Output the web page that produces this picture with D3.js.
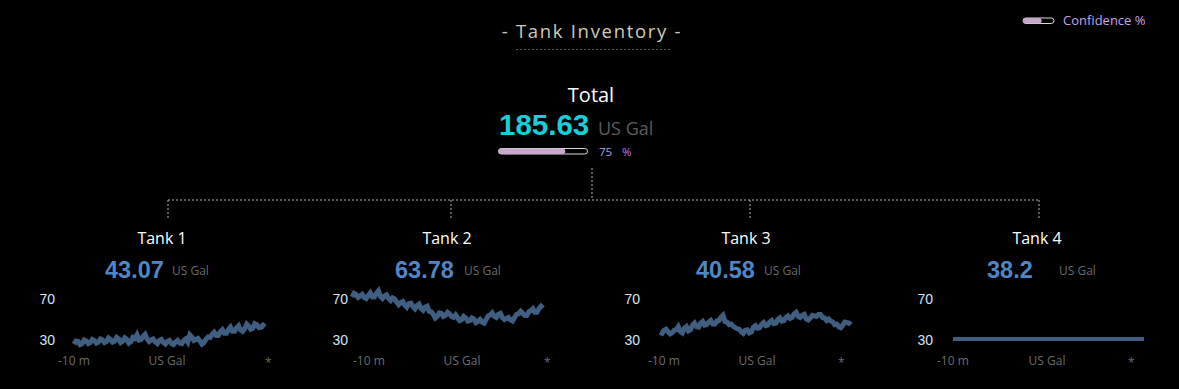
<!DOCTYPE html>
<html>
<head>
<meta charset="utf-8">
<script src="https://cdn.jsdelivr.net/npm/d3@7/dist/d3.min.js"></script>
<style>
  html, body { margin:0; padding:0; background:#000; }
  svg { display:block; }
</style>
</head>
<body>
<svg id="chart" width="1179" height="389"></svg>
<script>
// ---------- DATA ----------
const chartTitle = "- Tank Inventory -";
const legendLabel = "Confidence %";
const totalLabel = "Total";
const totalValue = "185.63";
const unitLabel = "US Gal";
const totalConfidence = 75;
const legendConfidence = 60;

const tankNames = ["Tank 1", "Tank 2", "Tank 3", "Tank 4"];
const tankValues = ["43.07", "63.78", "40.58", "38.2"];
const yTicks = [30, 70];
const xTickLabels = ["-10 m", "US Gal", "*"];

const tank1 = [26, 29, 28.5, 25.5, 26.5, 30, 29, 26.5, 27.5, 30.5, 29.5, 27, 28, 31, 30, 27.5,
  28.5, 32, 30.5, 28, 29, 32.5, 31, 27.5, 29, 32, 30.5, 27, 28.5, 32.5, 31.5, 35,
  30, 30.5, 33.5, 35.5, 31, 28.5, 30, 31, 28, 26.5, 29.5, 30.5, 27.5, 26, 28.5, 29.5,
  26.5, 25.5, 28, 29.5, 27, 26.5, 29.5, 31, 28, 35, 33, 29.5, 30.5, 31.5, 29, 26,
  27.5, 31, 33, 32.5, 35.5, 37.5, 34.5, 34.5, 38, 40, 36.5, 36.5, 40, 42.5, 38.5, 38.5,
  42, 44, 40, 38.5, 41, 45.5, 43.5, 40.5, 41.5, 46, 45, 42, 42.5, 44.5, 43];
const tank2 = [72, 75.5, 74.5, 71.5, 73, 74.5, 71.5, 70.5, 73.5, 76, 72, 72, 75.5, 78, 72.5, 70.5,
  73, 74, 70.5, 68.5, 71, 70, 67, 64.5, 66.5, 67.5, 64, 62, 65.5, 66, 62.5, 60.5,
  63.5, 65, 60.5, 59, 62, 63, 58, 57.5, 55, 51.5, 53, 56.5, 56, 53, 54, 57,
  55.5, 53, 52, 54.5, 51.5, 49, 50, 53, 51.5, 48.5, 49, 51.5, 50.5, 47, 48, 50,
  47.5, 46.5, 50, 53.5, 54.5, 56.5, 53, 52, 55, 56, 52, 50, 51, 52, 49.5, 48.5,
  52, 55, 55.5, 58, 56, 54, 54, 57.5, 58.5, 60.5, 57, 57, 60.5, 63, 61];
const tank3 = [37.5, 36.5, 39.5, 40.5, 38, 36, 37, 39.5, 40, 43, 38.5, 37, 41.5, 43, 39, 40,
  44.5, 46.5, 43, 42.5, 46.5, 48, 44.5, 45, 47.5, 49, 45.5, 45.5, 48.5, 49, 52, 54,
  48, 47.5, 45, 45.5, 43.5, 42, 41, 40.5, 38, 36.5, 39.5, 40, 37, 38, 42.5, 44,
  41.5, 42, 45, 47, 44, 44.5, 47.5, 49, 46, 46.5, 50, 51.5, 48.5, 49, 52, 53.5,
  51, 52, 55.5, 57, 53, 52, 54, 55, 50.5, 49.5, 51.5, 54, 53.5, 53, 55, 55,
  52, 51.5, 49, 50.5, 48.5, 47.5, 45, 45.5, 43, 42, 44.5, 47.5, 47, 46.5, 45];
const tank4 = [31, 31, 31, 31, 31, 31, 31, 31, 31, 31, 31, 31];
const tankSeries = [tank1, tank2, tank3, tank4];

// ---------- LAYOUT ----------
const W = 1179, H = 389;
const panels = [
  {cx:162, link:168, valueX:105, unitX:172, labelRight:55, chartX:74, minX:58, unitAxisX:167, starX:265},
  {cx:447, link:451, valueX:395, unitX:464, labelRight:348, chartX:352, minX:353, unitAxisX:462, starX:544},
  {cx:746, link:750, valueX:696, unitX:764, labelRight:640, chartX:660, minX:648, unitAxisX:757, starX:838},
  {cx:1037, link:1039, valueX:987, unitX:1059, labelRight:933, chartX:953, minX:937, unitAxisX:1047, starX:1128}
];
const chartW = 191;

const svg = d3.select("#chart");
svg.append("rect").attr("width", W).attr("height", H).attr("fill", "#000");

const sansUI = "'Open Sans', 'Noto Sans', sans-serif";
const sansNum = "'Liberation Sans', Arial, sans-serif";

// Title
svg.append("text").attr("x", 592).attr("y", 38).attr("text-anchor", "middle")
  .attr("font-family", sansUI).attr("font-size", 18.5).attr("letter-spacing", 1.7)
  .attr("fill", "#cfcbb8").text(chartTitle);
svg.append("line").attr("x1", 516).attr("x2", 671).attr("y1", 49.5).attr("y2", 49.5)
  .attr("stroke", "#555").attr("stroke-width", 1).attr("stroke-dasharray", "2,2");

// Legend
const lg = svg.append("g");
lg.append("rect").attr("x", 1023).attr("y", 18).attr("width", 31).attr("height", 5.5).attr("rx", 2.75)
  .attr("fill", "none").attr("stroke", "#d8d8d8").attr("stroke-width", 1);
lg.append("rect").attr("x", 1023).attr("y", 18).attr("width", 31 * legendConfidence / 100).attr("height", 5.5).attr("rx", 2.75)
  .attr("fill", "#c8a6cc");
lg.append("text").attr("x", 1063).attr("y", 24.5).attr("font-family", sansUI).attr("font-size", 13)
  .attr("fill", "#c3a4f0").text(legendLabel);

// Total
svg.append("text").attr("x", 591).attr("y", 102).attr("text-anchor", "middle")
  .attr("font-family", sansUI).attr("font-size", 20).attr("fill", "#fff").text(totalLabel);
svg.append("text").attr("x", 499).attr("y", 135).attr("font-family", sansNum).attr("font-weight", "bold")
  .attr("font-size", 29.5).attr("fill", "#14d0d8").text(totalValue);
svg.append("text").attr("x", 598).attr("y", 135).attr("font-family", sansUI)
  .attr("font-size", 18).attr("fill", "#5c5c5c").text(unitLabel);
const barScale = d3.scaleLinear().domain([0, 100]).range([0, 89]);
svg.append("rect").attr("x", 498.5).attr("y", 148.5).attr("width", barScale(100)).attr("height", 5.5).attr("rx", 2.75)
  .attr("fill", "none").attr("stroke", "#dcdcdc").attr("stroke-width", 1);
svg.append("rect").attr("x", 498.5).attr("y", 148.5).attr("width", barScale(totalConfidence)).attr("height", 5.5).attr("rx", 2.75)
  .attr("fill", "#c8a8cc");
svg.append("text").attr("x", 599).attr("y", 156).attr("font-family", sansUI).attr("font-size", 11.5)
  .attr("fill", "#b49cf0").text(totalConfidence);
svg.append("text").attr("x", 622).attr("y", 156).attr("font-family", sansUI).attr("font-size", 11.5)
  .attr("fill", "#c27cf0").text("%");

// Tree connectors
const dot = g => g.attr("stroke", "#7a7a7a").attr("stroke-width", 1.5).attr("stroke-dasharray", "2,2").attr("fill", "none");
svg.append("line").attr("x1", 592).attr("x2", 592).attr("y1", 168).attr("y2", 200).call(dot);
svg.append("line").attr("x1", panels[0].link).attr("x2", panels[3].link).attr("y1", 200).attr("y2", 200).call(dot);
panels.forEach(p => {
  svg.append("line").attr("x1", p.link).attr("x2", p.link).attr("y1", 200).attr("y2", 220).call(dot);
});

// Tanks
const y = d3.scaleLinear().domain([30, 70]).range([340, 299]);
tankNames.forEach((name, k) => {
  const p = panels[k];
  const g = svg.append("g");
  g.append("text").attr("x", p.cx).attr("y", 244).attr("text-anchor", "middle")
    .attr("font-family", sansUI).attr("font-size", 16).attr("fill", "#fff").text(name);
  g.append("text").attr("x", p.valueX).attr("y", 277.5).attr("font-family", sansNum).attr("font-weight", "bold")
    .attr("font-size", 23.5).attr("fill", "#4f86c6").text(tankValues[k]);
  g.append("text").attr("x", p.unitX).attr("y", 274.5).attr("font-family", sansUI)
    .attr("font-size", 12).attr("fill", "#6a6a6a").text(unitLabel);

  // y axis
  const ax = g.append("g").attr("transform", `translate(${p.labelRight + 9},0)`)
    .call(d3.axisLeft(y).tickValues(yTicks).tickSize(0).tickPadding(9));
  ax.select(".domain").remove();
  ax.selectAll("text").attr("font-family", sansNum).attr("font-size", 14).attr("fill", "#d2e6f6");

  // series
  const data = tankSeries[k];
  const x = d3.scaleLinear().domain([0, data.length - 1]).range([p.chartX, p.chartX + chartW]);
  const line = d3.line().x((d, i) => x(i)).y(d => y(d));
  g.append("path").datum(data).attr("d", line).attr("fill", "none")
    .attr("stroke", "#3f5e80").attr("stroke-width", k === 3 ? 3.8 : 5)
    .attr("stroke-linejoin", "miter").attr("stroke-miterlimit", 4);

  // x labels
  const xl = [p.minX, p.unitAxisX, p.starX];
  const anchors = ["start", "middle", "start"];
  xTickLabels.forEach((t, j) => {
    g.append("text").attr("x", xl[j]).attr("y", j === 2 ? 367 : 365).attr("text-anchor", anchors[j])
      .attr("font-family", sansUI).attr("font-size", j === 2 ? 12 : 12).attr("fill", "#6c6c6c").text(t);
  });
});
</script>
</body>
</html>
